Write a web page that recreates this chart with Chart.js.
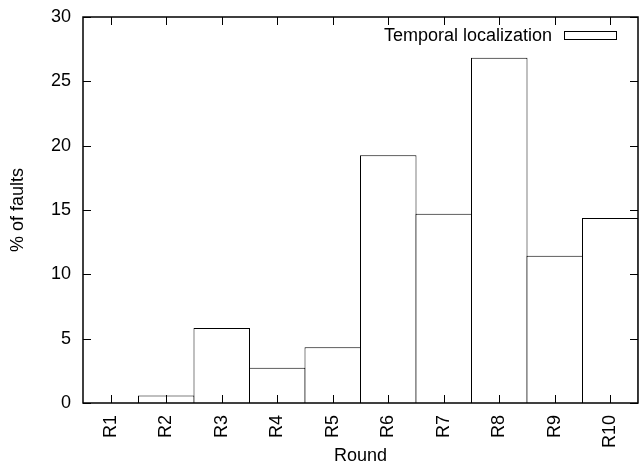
<!DOCTYPE html>
<html>
<head>
<meta charset="utf-8">
<script src="https://cdn.jsdelivr.net/npm/chart.js@4"></script>
<style>
  html, body { margin: 0; padding: 0; background: #fff; }
  canvas { display: block; }
</style>
</head>
<body>
<canvas id="myChart" width="639" height="468"></canvas>
<script>
const rounds = ['R1', 'R2', 'R3', 'R4', 'R5', 'R6', 'R7', 'R8', 'R9', 'R10'];
const faultShare = [0, 0.58, 5.82, 2.73, 4.34, 19.25, 14.7, 26.84, 11.44, 14.37];
const seriesName = 'Temporal localization';
const yMax = 30;
const yStep = 5;

const font = { family: '"Liberation Sans", Arial, sans-serif', size: 18 };

// box around the plot, inward tick marks on all four sides, key in the top right corner
const frameTicks = {
  id: 'frameTicks',
  afterDatasetsDraw(chart) {
    const { ctx, chartArea: a, scales: { x, y } } = chart;
    const len = 8;
    ctx.save();
    ctx.strokeStyle = '#000';
    ctx.lineWidth = 1;
    ctx.beginPath();
    x.ticks.forEach((t, i) => {
      const px = Math.round(x.getPixelForTick(i)) + 0.5;
      ctx.moveTo(px, a.bottom); ctx.lineTo(px, a.bottom - len);
      ctx.moveTo(px, a.top); ctx.lineTo(px, a.top + len);
    });
    y.ticks.forEach((t, i) => {
      const py = Math.round(y.getPixelForTick(i)) + 0.5;
      ctx.moveTo(a.left, py); ctx.lineTo(a.left + len, py);
      ctx.moveTo(a.right, py); ctx.lineTo(a.right - len, py);
    });
    ctx.stroke();

    ctx.lineWidth = 1.5;
    ctx.strokeRect(a.left, a.top, a.right - a.left, a.bottom - a.top);

    // key
    const ds = chart.data.datasets[0];
    const boxR = a.right - 21, boxW = 53, boxH = 9, boxT = a.top + 14;
    ctx.fillStyle = ds.backgroundColor;
    ctx.fillRect(boxR - boxW, boxT, boxW, boxH);
    ctx.lineWidth = 1;
    ctx.strokeStyle = ds.borderColor;
    ctx.strokeRect(boxR - boxW + 0.5, boxT + 0.5, boxW - 1, boxH - 1);
    ctx.fillStyle = '#000';
    ctx.font = font.size + 'px ' + font.family;
    ctx.textAlign = 'right';
    ctx.textBaseline = 'middle';
    ctx.fillText(ds.label, boxR - boxW - 12, boxT + boxH / 2 + 1);
    ctx.restore();
  }
};

new Chart(document.getElementById('myChart'), {
  type: 'bar',
  data: {
    labels: rounds,
    datasets: [{
      label: seriesName,
      data: faultShare,
      backgroundColor: '#ffffff',
      borderColor: '#000000',
      borderWidth: 1,
      borderSkipped: 'start',
      barPercentage: 1.018,
      categoryPercentage: 1
    }]
  },
  options: {
    responsive: false,
    animation: false,
    layout: { padding: { top: 17, right: 1, left: 0, bottom: 0 } },
    plugins: {
      legend: { display: false },
      tooltip: { enabled: false }
    },
    scales: {
      x: {
        grid: { display: false, drawTicks: false },
        border: { display: false },
        ticks: { color: '#000', font: font, minRotation: 90, maxRotation: 90, padding: 12 },
        title: { display: true, text: 'Round', color: '#000', font: font, padding: { top: 0, bottom: 1 } },
        afterFit(scale) {
          scale.height = 65;
          scale.paddingLeft = 0;
          scale.paddingRight = 0;
        }
      },
      y: {
        min: 0,
        max: yMax,
        grid: { display: false, drawTicks: false },
        border: { display: false },
        ticks: { stepSize: yStep, color: '#000', font: font, padding: 12 },
        title: { display: true, text: '% of faults', color: '#000', font: font, padding: { top: 7, bottom: 0 } },
        afterFit(scale) {
          scale.width = 83;
          scale.paddingTop = 0;
          scale.paddingBottom = 0;
        }
      }
    }
  },
  plugins: [frameTicks]
});
</script>
</body>
</html>
